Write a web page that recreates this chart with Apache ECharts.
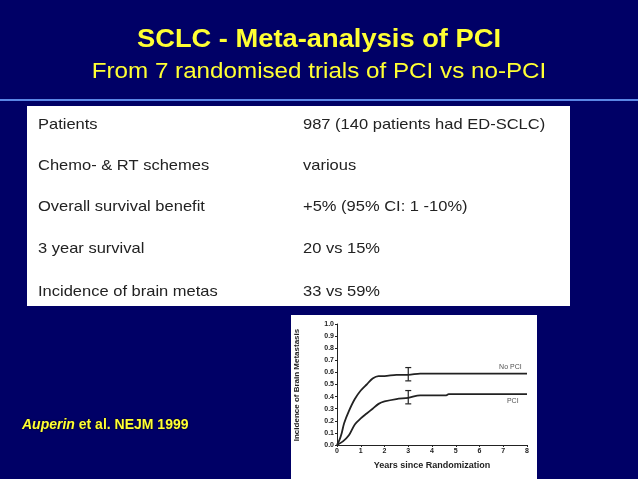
<!DOCTYPE html>
<html><head><meta charset="utf-8">
<script src="https://cdn.jsdelivr.net/npm/echarts@6/dist/echarts.min.js"></script>
<style>html,body{margin:0;padding:0;background:#000066}#c{width:638px;height:479px}</style>
</head><body><div id="c"></div>
<script>
const title = "SCLC - Meta-analysis of PCI";
const subtitle = "From 7 randomised trials of PCI vs no-PCI";
const rowLabels = ["Patients","Chemo- & RT schemes","Overall survival benefit","3 year survival","Incidence of brain metas"];
const rowValues = ["987 (140 patients had ED-SCLC)","various","+5% (95% CI: 1 -10%)","20 vs 15%","33 vs 59%"];
const noPci = [[0,0],[0.1,0.04],[0.2,0.1],[0.3,0.18],[0.5,0.28],[0.75,0.38],[1,0.45],[1.25,0.5],[1.5,0.55],[1.75,0.57],[2,0.57],[2.5,0.58],[3,0.58],[3.5,0.59],[4,0.59],[8,0.59]];
const pci = [[0,0],[0.25,0.03],[0.5,0.08],[0.75,0.17],[1,0.22],[1.25,0.26],[1.5,0.3],[1.75,0.34],[2,0.36],[2.5,0.38],[3,0.39],[3.5,0.41],[4.6,0.41],[4.7,0.42],[8,0.42]];
const errBars = [[3,0.53,0.64],[3,0.34,0.45]];

const chart = echarts.init(document.getElementById('c'));
const rowY = [125,166,207,249,292];
const g = [
  {type:'rect',shape:{x:0,y:99,width:638,height:2},style:{fill:'#5b86e6'}},
  {type:'text',x:319,y:40,style:{text:title,fill:'#ffff33',font:'bold 26px Arial',textAlign:'center',textVerticalAlign:'middle'},scaleX:1.05},
  {type:'text',x:319,y:72,style:{text:subtitle,fill:'#ffff33',font:'22px Arial',textAlign:'center',textVerticalAlign:'middle'},scaleX:1.1},
  {type:'rect',shape:{x:27,y:106,width:543,height:200},style:{fill:'#ffffff'}},
  {type:'rect',shape:{x:291,y:315,width:246,height:164},style:{fill:'#ffffff'}},
  {type:'text',x:22,y:425,style:{rich:{a:{font:'italic bold 14px Arial',fill:'#ffff33',textShadowColor:'#000',textShadowBlur:2},b:{font:'bold 14px Arial',fill:'#ffff33',textShadowColor:'#000',textShadowBlur:2}},text:'{a|Auperin}{b| et al. NEJM 1999}',textVerticalAlign:'middle'}},
  {type:'text',x:297,y:385,rotation:Math.PI/2,style:{text:'Incidence of Brain Metastasis',fill:'#222',font:'bold 8px Arial',textAlign:'center',textVerticalAlign:'middle'}},
  {type:'text',x:432,y:466,style:{text:'Years since Randomization',fill:'#222',font:'bold 9px Arial',textAlign:'center',textVerticalAlign:'middle'}}
];
rowLabels.forEach((t,i)=>{
  g.push({type:'text',x:38,y:rowY[i],scaleX:1.1,style:{text:t,fill:'#222',font:'15px Arial',textVerticalAlign:'middle'}});
  g.push({type:'text',x:303,y:rowY[i],scaleX:1.1,style:{text:rowValues[i],fill:'#222',font:'15px Arial',textVerticalAlign:'middle'}});
});
chart.setOption({
  animation:false,
  backgroundColor:'#000066',
  graphic:g,
  grid:{left:337,right:111,top:324,bottom:34},
  xAxis:{type:'value',min:0,max:8,interval:1,axisLine:{lineStyle:{color:'#222'}},axisTick:{length:2,lineStyle:{color:'#222'}},splitLine:{show:false},axisLabel:{color:'#222',fontSize:7,margin:3,fontWeight:'bold'}},
  yAxis:{type:'value',min:0,max:1,interval:0.1,axisLine:{show:true,lineStyle:{color:'#222'}},axisTick:{show:true,length:2,lineStyle:{color:'#222'}},splitLine:{show:false},axisLabel:{color:'#222',fontSize:7,margin:3,fontWeight:'bold',formatter:v=>v.toFixed(1)}},
  series:[
    {type:'line',data:noPci,symbol:'none',smooth:0.3,lineStyle:{color:'#222',width:1.8}},
    {type:'line',data:pci,symbol:'none',smooth:0.3,lineStyle:{color:'#222',width:1.8}},
    {type:'custom',data:errBars,renderItem:(p,api)=>{
      const x=api.value(0),lo=api.coord([x,api.value(1)]),hi=api.coord([x,api.value(2)]);
      const s={stroke:'#222',lineWidth:1.2};
      return {type:'group',children:[
        {type:'line',shape:{x1:lo[0],y1:lo[1],x2:hi[0],y2:hi[1]},style:s},
        {type:'line',shape:{x1:lo[0]-3,y1:lo[1],x2:lo[0]+3,y2:lo[1]},style:s},
        {type:'line',shape:{x1:hi[0]-3,y1:hi[1],x2:hi[0]+3,y2:hi[1]},style:s}]};
    }},
    {type:'scatter',symbolSize:0,data:[[7.3,0.64],[7.4,0.36]],label:{show:true,position:'inside',color:'#222',fontSize:7,formatter:p=>p.dataIndex===0?'No PCI':'PCI'}}
  ]
});
</script></body></html>
